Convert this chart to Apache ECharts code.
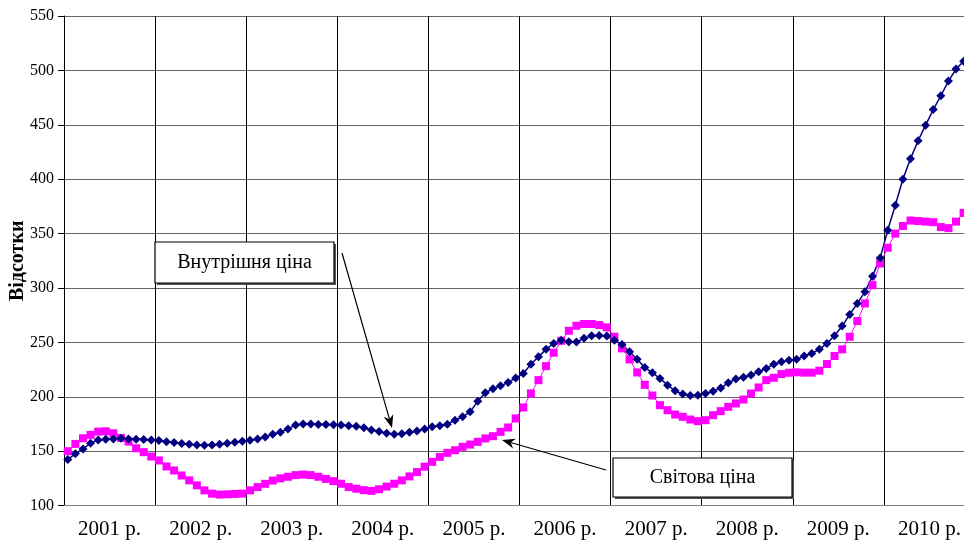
<!DOCTYPE html>
<html><head><meta charset="utf-8">
<script src="https://cdn.jsdelivr.net/npm/echarts@6/dist/echarts.min.js"></script>
<style>html,body{margin:0;padding:0;background:#fff}#c{width:964px;height:543px}</style>
</head><body><div id="c"></div>
<script>
const years = ['2001 р.','2002 р.','2003 р.','2004 р.','2005 р.','2006 р.','2007 р.','2008 р.','2009 р.','2010 р.'];

const domestic = [
  142.4,147.6,152.1,157.3,160.4,161,161.3,161.8,161.3,161,160.7,160.4,
  159.8,158.8,157.9,157,156.4,155.8,155.5,155.8,156.4,157.3,158.2,159.1,
  160,161.3,163,165.5,167.5,170.5,174,175,175,174.5,174.5,174.3,
  174,173.5,173,171.5,169.5,168,166.5,165.5,166,167.5,168.5,170.5,
  172.4,173.3,174.8,178.5,181.6,186.2,196,203.7,207.4,210.1,213.2,217.2,
  221.5,230,236.8,243.6,249,252,250.6,250.3,253.7,256,256.4,255.8,
  252,248,241.4,234.4,227,222,216.9,210.7,205.5,202.5,201.2,201.5,
  203,205,208,212.9,216.3,218,220,223,226,230,232.2,233.7,
  234.4,237.5,239.9,243.6,249.1,256.1,265,275.7,285.8,296.5,310.9,327.5,
  353,376,400,418.7,435.3,449.7,464,476.7,490.2,501.2,508.3
];

const world = [
  150,156.7,161.9,165,168,168.3,166.5,162.2,158.8,152.7,149.1,145.1,
  141.5,136,132.3,127.7,123.2,118.6,114,111,110.1,110.4,110.7,111,
  114,117,120,123,125,126.5,128,128.5,128,126.5,124.5,122.5,
  120.1,117,115.5,114.2,113.5,115,117.5,120.1,123.2,126.8,130.8,135.8,
  140.2,144.8,148.5,150.9,154,156.1,158.6,161.7,163.8,167.8,171.8,180.1,
  190.2,203.1,215.3,228.2,240.5,251.5,260.7,265.3,266.9,266.9,266,263.8,
  255.2,244.5,234.4,222.4,211,201.2,192.3,187.7,183.7,181.6,179.1,177.6,
  178.5,183.1,186.8,190.8,193.9,197.5,203,208.6,215.3,217.5,220.9,222.1,
  222.5,222.2,222.2,224,230.1,237.5,243.6,255.2,269.6,285.8,302.6,322.5,
  337,350,357,362,361.6,361,360.5,356,355,361,369
];

const labelDomestic = 'Внутрішня ціна';
const labelWorld = 'Світова ціна';

const F = '"Liberation Serif", "Times New Roman", serif';
const pts = a => a.map((v, i) => [i + 0.5, v]);

function arrow(x1, y1, x2, y2) {
  const ang = Math.atan2(y2 - y1, x2 - x1);
  const L = 13, W = 5, N = 9;
  const bx = x2 - L * Math.cos(ang), by = y2 - L * Math.sin(ang);
  const nx = x2 - N * Math.cos(ang), ny = y2 - N * Math.sin(ang);
  const px = -Math.sin(ang), py = Math.cos(ang);
  return [
    {type: 'line', shape: {x1: x1, y1: y1, x2: nx, y2: ny}, style: {stroke: '#000', lineWidth: 1.2}, z: 100},
    {type: 'polygon', shape: {points: [[x2, y2], [bx + px * W, by + py * W], [nx, ny], [bx - px * W, by - py * W]]}, style: {fill: '#000'}, z: 100}
  ];
}

function box(x, y, w, h, text) {
  return [
    {type: 'rect', shape: {x: x + 2, y: y + 2, width: w, height: h}, style: {fill: '#555'}, z: 100},
    {type: 'rect', shape: {x: x, y: y, width: w, height: h}, style: {fill: '#fff', stroke: '#000', lineWidth: 1.2}, z: 101},
    {type: 'text', x: x + w / 2, y: y + h / 2, style: {text: text, fontFamily: F, fontSize: 20, fill: '#000', align: 'center', verticalAlign: 'middle'}, z: 102}
  ];
}

const chart = echarts.init(document.getElementById('c'));
chart.setOption({
  animation: false,
  grid: {left: 64, top: 16, right: -11, bottom: 37.4, containLabel: false, outerBoundsMode: 'none'},
  xAxis: [
    {type: 'value', min: 0, max: 120, interval: 12,
     axisLabel: {show: false}, axisTick: {show: false},
     axisLine: {show: true, lineStyle: {color: '#808080'}},
     splitLine: {show: true, lineStyle: {color: '#000', width: 1}}},
    {type: 'category', data: years, boundaryGap: true, position: 'bottom',
     axisLine: {show: false}, axisTick: {show: false}, splitLine: {show: false},
     axisLabel: {fontFamily: F, fontSize: 21, color: '#000', margin: 13, interval: 0}}
  ],
  yAxis: {
    type: 'value', min: 100, max: 550, interval: 50,
    name: 'Відсотки', nameLocation: 'middle', nameGap: 36, nameRotate: 90, nameMoveOverlap: false,
    nameTextStyle: {fontFamily: F, fontSize: 20, fontWeight: 'bold', color: '#000'},
    axisLine: {show: true, lineStyle: {color: '#000'}},
    axisTick: {show: true, inside: false, length: 6, lineStyle: {color: '#000'}},
    axisLabel: {fontFamily: F, fontSize: 16, color: '#000', margin: 10},
    splitLine: {show: true, lineStyle: {color: '#666'}}
  },
  series: [
    {type: 'line', name: labelWorld, data: pts(world), xAxisIndex: 0,
     symbol: 'rect', symbolSize: 8, showAllSymbol: true,
     lineStyle: {color: '#FF00FF', width: 1}, itemStyle: {color: '#FF00FF'}},
    {type: 'line', name: labelDomestic, data: pts(domestic), xAxisIndex: 0,
     symbol: 'diamond', symbolSize: 9, showAllSymbol: true,
     lineStyle: {color: '#000080', width: 1.5}, itemStyle: {color: '#000080'}}
  ],
  graphic: [].concat(
    box(155, 242, 179, 41, labelDomestic),
    box(613, 458, 179, 39, labelWorld),
    arrow(342, 253, 392, 428),
    arrow(606, 470, 502, 440)
  )
});
</script></body></html>
